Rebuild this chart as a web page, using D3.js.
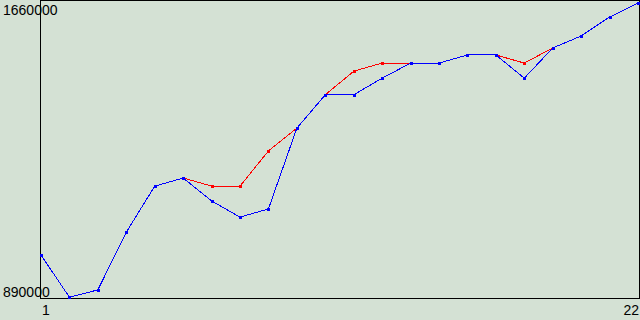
<!DOCTYPE html>
<html>
<head>
<meta charset="utf-8">
<script src="https://cdn.jsdelivr.net/npm/d3@7"></script>
<style>
  html, body { margin: 0; padding: 0; background: #d4e1d4; }
  svg { display: block; }
  text { font-family: "Liberation Sans", Arial, sans-serif; font-size: 14px; fill: #000; }
</style>
</head>
<body>
<svg id="chart" width="640" height="320"></svg>
<script>
// data
const xValues = d3.range(1, 23);
const blueSeries = [1001000, 892000, 911000, 1060000, 1179000, 1200000, 1141000, 1099000, 1120000, 1329000, 1415000,
    1415000, 1458000, 1497000, 1497000, 1518000, 1518000, 1458000, 1536000, 1567000, 1616000, 1652000];
const redSeries = [1001000, 892000, 911000, 1060000, 1179000, 1200000, 1179000, 1179000, 1270000, 1329000, 1415000,
    1476000, 1497000, 1497000, 1497000, 1518000, 1518000, 1497000, 1536000, 1567000, 1616000, 1652000];
const yTickLabels = [1660000, 890000];
const xTickLabels = [1, 22];

const svg = d3.select('#chart');

const x = d3.scaleLinear().domain([1, 22]).range([41, 638]);
const y = d3.scaleLinear().domain([890000, 1660000]).range([298, 0]);

// plot frame
svg.append('rect')
    .attr('x', 40.5)
    .attr('y', 0.5)
    .attr('width', 599)
    .attr('height', 298)
    .attr('fill', 'none')
    .attr('stroke', '#000')
    .attr('stroke-width', 1)
    .attr('shape-rendering', 'crispEdges');

const line = d3.line()
    .x((d, i) => x(xValues[i]))
    .y(d => y(d));

const drawSeries = (values, color) => {
    svg.append('path')
        .datum(values)
        .attr('d', line)
        .attr('fill', 'none')
        .attr('stroke', color)
        .attr('stroke-width', 1)
        .attr('shape-rendering', 'crispEdges');

    svg.append('g')
        .selectAll('rect')
        .data(values)
        .join('rect')
        .attr('x', (d, i) => Math.round(x(xValues[i])) - 1.5)
        .attr('y', d => Math.round(y(d)) - 1.5)
        .attr('width', 3)
        .attr('height', 3)
        .attr('fill', color)
        .attr('shape-rendering', 'crispEdges');
};

drawSeries(redSeries, '#ff0000');
drawSeries(blueSeries, '#0000ff');

// y labels
svg.append('text').attr('x', 3).attr('y', 15).text(yTickLabels[0]);
svg.append('text').attr('x', 3).attr('y', 297).text(yTickLabels[1]);

// x labels
svg.append('text').attr('x', x(xTickLabels[0]) + 1).attr('y', 315).text(xTickLabels[0]);
svg.append('text').attr('x', 639).attr('y', 315).attr('text-anchor', 'end').text(xTickLabels[1]);
</script>
</body>
</html>
